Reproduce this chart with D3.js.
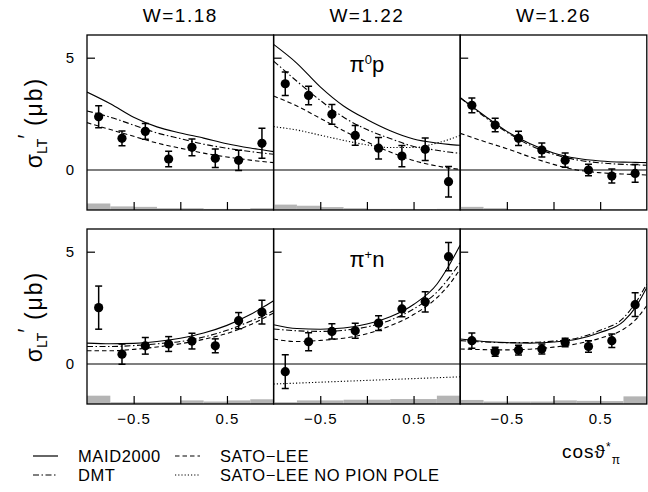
<!DOCTYPE html>
<html>
<head>
<meta charset="utf-8">
<script src="https://cdn.jsdelivr.net/npm/d3@7"></script>
<style>
  body { margin: 0; background: #fff; }
  text { font-family: "Liberation Sans", Arial, sans-serif; fill: #000; }
</style>
</head>
<body>
<div id="content"></div>
<script>
// Column titles and the two channels.
var wLabels = ['W=1.18', 'W=1.22', 'W=1.26'];

// Data points sit at the bin centres, curves are sampled on a coarser grid.
var cosPts = [-0.875, -0.625, -0.375, -0.125, 0.125, 0.375, 0.625, 0.875];
var curveCos = [-1, -0.75, -0.5, -0.25, 0, 0.25, 0.5, 0.75, 0.875, 1];

// pi0 p, W=1.18
var p0_118_y   = [2.37, 1.41, 1.72, 0.49, 1.01, 0.52, 0.43, 1.19];
var p0_118_e   = [0.49, 0.33, 0.35, 0.35, 0.37, 0.41, 0.45, 0.67];
var p0_118_sys = [0.29, 0.16, 0.14, 0.08, 0.08, 0.05, 0.05, 0.08];
var p0_118_maid = [3.47, 2.95, 2.35, 1.92, 1.65, 1.42, 1.17, 0.98, 0.90, 0.82];
var p0_118_dmt  = [2.63, 2.35, 2.00, 1.65, 1.40, 1.15, 0.97, 0.82, 0.76, 0.70];
var p0_118_sl   = [2.11, 1.80, 1.50, 1.20, 0.97, 0.75, 0.58, 0.44, 0.38, 0.33];

// pi0 p, W=1.22
var p0_122_y   = [3.84, 3.32, 2.48, 1.54, 0.97, 0.62, 0.92, -0.52];
var p0_122_e   = [0.52, 0.41, 0.44, 0.44, 0.48, 0.47, 0.50, 0.68];
var p0_122_sys = [0.24, 0.19, 0.13, 0.08, 0.05, 0.05, 0.04, 0.05];
var p0_122_maid = [5.59, 4.75, 3.70, 2.85, 2.25, 1.75, 1.38, 1.20, 1.14, 1.10];
var p0_122_dmt  = [4.85, 3.95, 3.10, 2.35, 1.80, 1.40, 1.05, 0.88, 0.80, 0.74];
var p0_122_sl   = [3.29, 2.85, 2.30, 1.75, 1.25, 0.80, 0.42, 0.18, 0.09, 0.03];
var p0_122_slnp = [1.93, 1.78, 1.55, 1.32, 1.12, 1.00, 1.00, 1.20, 1.35, 1.54];

// pi0 p, W=1.26
var p0_126_y   = [2.88, 2.00, 1.41, 0.89, 0.44, 0.00, -0.27, -0.15];
var p0_126_e   = [0.33, 0.30, 0.32, 0.31, 0.32, 0.26, 0.31, 0.39];
var p0_126_sys = [0.14, 0.08, 0.04, 0.04, 0.03, 0.03, 0.03, 0.03];
var p0_126_maid = [3.22, 2.45, 1.72, 1.17, 0.76, 0.52, 0.40, 0.35, 0.34, 0.33];
var p0_126_dmt  = [3.22, 2.40, 1.68, 1.10, 0.70, 0.45, 0.32, 0.25, 0.23, 0.21];
var p0_126_sl   = [1.63, 1.28, 0.95, 0.58, 0.25, 0.00, -0.12, -0.18, -0.20, -0.22];

// pi+ n, W=1.18
var pn_118_y   = [2.51, 0.44, 0.81, 0.89, 1.02, 0.81, 1.93, 2.31];
var pn_118_e   = [0.96, 0.45, 0.37, 0.33, 0.35, 0.31, 0.36, 0.53];
var pn_118_sys = [0.37, 0.08, 0.08, 0.08, 0.16, 0.11, 0.16, 0.21];
var pn_118_maid = [0.93, 0.90, 0.92, 1.00, 1.15, 1.38, 1.72, 2.20, 2.50, 2.82];
var pn_118_dmt  = [0.78, 0.78, 0.82, 0.90, 1.00, 1.20, 1.50, 1.90, 2.12, 2.37];
var pn_118_sl   = [0.59, 0.59, 0.65, 0.76, 0.90, 1.10, 1.36, 1.75, 2.00, 2.27];

// pi+ n, W=1.22
var pn_122_y   = [-0.34, 0.99, 1.45, 1.48, 1.82, 2.45, 2.77, 4.78];
var pn_122_e   = [0.75, 0.40, 0.34, 0.33, 0.33, 0.35, 0.45, 0.63];
var pn_122_sys = [0.08, 0.16, 0.16, 0.19, 0.19, 0.22, 0.22, 0.37];
var pn_122_maid = [1.75, 1.58, 1.55, 1.60, 1.78, 2.10, 2.65, 3.55, 4.35, 5.30];
var pn_122_dmt  = [1.56, 1.48, 1.45, 1.50, 1.65, 1.95, 2.45, 3.20, 3.80, 4.52];
var pn_122_sl   = [1.11, 1.00, 1.05, 1.15, 1.35, 1.70, 2.20, 2.95, 3.50, 4.23];
var pn_122_slnp = [-0.89, -0.85, -0.81, -0.77, -0.73, -0.69, -0.65, -0.61, -0.59, -0.57];

// pi+ n, W=1.26
var pn_126_y   = [1.04, 0.55, 0.62, 0.67, 0.96, 0.78, 1.04, 2.64];
var pn_126_e   = [0.34, 0.20, 0.22, 0.22, 0.19, 0.26, 0.30, 0.53];
var pn_126_sys = [0.18, 0.11, 0.11, 0.11, 0.16, 0.14, 0.13, 0.34];
var pn_126_maid = [1.11, 1.00, 0.95, 0.93, 0.98, 1.10, 1.40, 1.90, 2.50, 3.41];
var pn_126_dmt  = [1.04, 0.98, 0.95, 0.96, 1.02, 1.15, 1.50, 2.05, 2.70, 3.56];
var pn_126_sl   = [0.67, 0.64, 0.63, 0.66, 0.75, 0.90, 1.15, 1.55, 1.95, 2.60];

var panels = [
  {col: 0, row: 0, y: p0_118_y, e: p0_118_e, sys: p0_118_sys, maid: p0_118_maid, dmt: p0_118_dmt, sl: p0_118_sl},
  {col: 1, row: 0, y: p0_122_y, e: p0_122_e, sys: p0_122_sys, maid: p0_122_maid, dmt: p0_122_dmt, sl: p0_122_sl, slnp: p0_122_slnp, label: 'p0'},
  {col: 2, row: 0, y: p0_126_y, e: p0_126_e, sys: p0_126_sys, maid: p0_126_maid, dmt: p0_126_dmt, sl: p0_126_sl},
  {col: 0, row: 1, y: pn_118_y, e: pn_118_e, sys: pn_118_sys, maid: pn_118_maid, dmt: pn_118_dmt, sl: pn_118_sl},
  {col: 1, row: 1, y: pn_122_y, e: pn_122_e, sys: pn_122_sys, maid: pn_122_maid, dmt: pn_122_dmt, sl: pn_122_sl, slnp: pn_122_slnp, label: 'pn'},
  {col: 2, row: 1, y: pn_126_y, e: pn_126_e, sys: pn_126_sys, maid: pn_126_maid, dmt: pn_126_dmt, sl: pn_126_sl}
];

// Line styles for the four models.
var styles = {
  maid: null,
  dmt: '6,2.5,1.5,2.5',
  sl: '4.5,3',
  slnp: '1.2,2'
};

var svg = d3.select('#content').append('svg')
    .attr('width', 648).attr('height', 492);

var left = 87, top0 = 35, pw = 186.6, ph = 175, rowGap = 194;

var x = d3.scaleLinear().domain([-1, 1]).range([0, pw]);
var y = d3.scaleLinear().domain([-1.78, 6.01]).range([ph, 0]);

var line = d3.line()
    .x(function(d) { return x(d[0]); })
    .y(function(d) { return y(d[1]); })
    .curve(d3.curveMonotoneX);

svg.append('defs').append('clipPath').attr('id', 'clip')
  .append('rect').attr('width', pw).attr('height', ph);

panels.forEach(function(p) {
  var g = svg.append('g')
      .attr('transform', 'translate(' + (left + p.col * pw) + ',' + (top0 + p.row * rowGap) + ')');
  var inner = g.append('g').attr('clip-path', 'url(#clip)');

  // Systematic error histogram along the bottom edge.
  inner.selectAll('rect.sys').data(p.sys).enter().append('rect')
      .attr('x', function(d, i) { return x(cosPts[i] - 0.125); })
      .attr('width', x(0.25) - x(0))
      .attr('y', function(d) { return y(-1.78 + d); })
      .attr('height', function(d) { return ph - y(-1.78 + d); })
      .attr('fill', '#b4b4b4');

  // Zero line.
  inner.append('line')
      .attr('x1', 0).attr('x2', pw)
      .attr('y1', y(0)).attr('y2', y(0))
      .attr('stroke', '#000').attr('stroke-width', 1.2);

  // Model curves.
  ['maid', 'dmt', 'sl', 'slnp'].forEach(function(k) {
    if (!p[k]) return;
    inner.append('path')
        .datum(curveCos.map(function(c, i) { return [c, p[k][i]]; }))
        .attr('d', line)
        .attr('fill', 'none')
        .attr('stroke', '#000')
        .attr('stroke-width', 1.1)
        .attr('stroke-dasharray', styles[k]);
  });

  // Data with statistical errors.
  var pts = inner.selectAll('g.pt').data(p.y).enter().append('g')
      .attr('transform', function(d, i) { return 'translate(' + x(cosPts[i]) + ',0)'; });
  pts.append('line')
      .attr('y1', function(d, i) { return y(d - p.e[i]); })
      .attr('y2', function(d, i) { return y(d + p.e[i]); })
      .attr('stroke', '#000').attr('stroke-width', 1.5);
  [-1, 1].forEach(function(s) {
    pts.append('line')
        .attr('x1', -3.5).attr('x2', 3.5)
        .attr('y1', function(d, i) { return y(d + s * p.e[i]); })
        .attr('y2', function(d, i) { return y(d + s * p.e[i]); })
        .attr('stroke', '#000').attr('stroke-width', 1.5);
  });
  pts.append('circle')
      .attr('cy', function(d) { return y(d); })
      .attr('r', 4.6)
      .attr('fill', '#000');

  // Inward ticks.
  g.append('g').attr('transform', 'translate(0,' + ph + ')')
      .call(d3.axisBottom(x).tickValues([-0.5, 0, 0.5]).tickSizeInner(-8).tickSizeOuter(0).tickFormat(''))
      .call(function(a) { a.select('.domain').remove(); })
      .selectAll('line').attr('stroke-width', 1.2);
  g.append('g')
      .call(d3.axisLeft(y).tickValues([5]).tickSizeInner(-8).tickSizeOuter(0).tickFormat(''))
      .call(function(a) { a.select('.domain').remove(); })
      .selectAll('line').attr('stroke-width', 1.2);

  // Tick labels.
  if (p.row === 1) {
    var xa = g.append('g').attr('transform', 'translate(0,' + ph + ')')
        .call(d3.axisBottom(x).tickValues([-0.5, 0.5]).tickSize(0).tickPadding(9)
          .tickFormat(function(d) { return d < 0 ? '\u22120.5' : '0.5'; }));
    xa.select('.domain').remove();
    xa.selectAll('text').attr('font-size', 15).attr('letter-spacing', 1)
        .style('font-family', '"Liberation Sans", Arial, sans-serif');
  }
  if (p.col === 0) {
    var ya = g.append('g')
        .call(d3.axisLeft(y).tickValues([0, 5]).tickSize(0).tickPadding(13).tickFormat(d3.format('d')));
    ya.select('.domain').remove();
    ya.selectAll('text').attr('font-size', 15)
        .style('font-family', '"Liberation Sans", Arial, sans-serif');

    // Y axis title.
    var t = svg.append('text')
        .attr('transform', 'translate(' + 42 + ',' + (top0 + p.row * rowGap + ph / 2) + ') rotate(-90)')
        .attr('text-anchor', 'middle')
        .attr('font-size', 23);
    t.append('tspan').text('\u03c3');
    t.append('tspan').attr('font-size', 14).attr('dy', 5).text('LT');
    t.append('tspan').attr('dy', -12).text('\u2032');
    t.append('tspan').attr('dy', 7).attr('letter-spacing', 2).text(' (\u03bcb)');
  }
  if (p.row === 0) {
    svg.append('text')
        .attr('x', left + p.col * pw + pw / 2)
        .attr('y', 22)
        .attr('text-anchor', 'middle')
        .attr('font-size', 19)
        .attr('letter-spacing', 1.5)
        .text(wLabels[p.col]);
  }

  // Channel label.
  if (p.label) {
    var lt = g.append('text')
        .attr('x', pw / 2).attr('y', p.row === 0 ? 37 : 38)
        .attr('text-anchor', 'middle')
        .attr('font-size', 22);
    lt.append('tspan').text('\u03c0');
    lt.append('tspan').attr('font-size', 13).attr('dy', -8).text(p.label === 'p0' ? '0' : '+');
    lt.append('tspan').attr('dy', 8).text(p.label === 'p0' ? 'p' : 'n');
  }

  // Frame.
  g.append('rect').attr('width', pw).attr('height', ph)
      .attr('fill', 'none').attr('stroke', '#000').attr('stroke-width', 1.3);
});

// X axis title.
var xt = svg.append('text').attr('x', 562).attr('y', 458).attr('font-size', 19).attr('letter-spacing', 1);
xt.append('tspan').text('cos\u03d1');
xt.append('tspan').attr('font-size', 12).attr('dy', -7).text('*');
xt.append('tspan').attr('font-size', 12).attr('dy', 13).text('\u03c0');

// Legend.
var legend = [
  {name: 'MAID2000', key: 'maid', x: 33, y: 456},
  {name: 'DMT', key: 'dmt', x: 33, y: 475},
  {name: 'SATO\u2212LEE', key: 'sl', x: 175, y: 456},
  {name: 'SATO\u2212LEE NO PION POLE', key: 'slnp', x: 175, y: 475}
];
var lg = svg.selectAll('g.leg').data(legend).enter().append('g')
    .attr('transform', function(d) { return 'translate(' + d.x + ',' + d.y + ')'; });
lg.append('line')
    .attr('x1', 0).attr('x2', 25)
    .attr('stroke', '#000').attr('stroke-width', 1.2)
    .attr('stroke-dasharray', function(d) { return styles[d.key]; });
lg.append('text')
    .attr('x', 45).attr('dy', 6)
    .attr('font-size', 16.5)
    .attr('letter-spacing', 0.6)
    .text(function(d) { return d.name; });
</script>
</body>
</html>
